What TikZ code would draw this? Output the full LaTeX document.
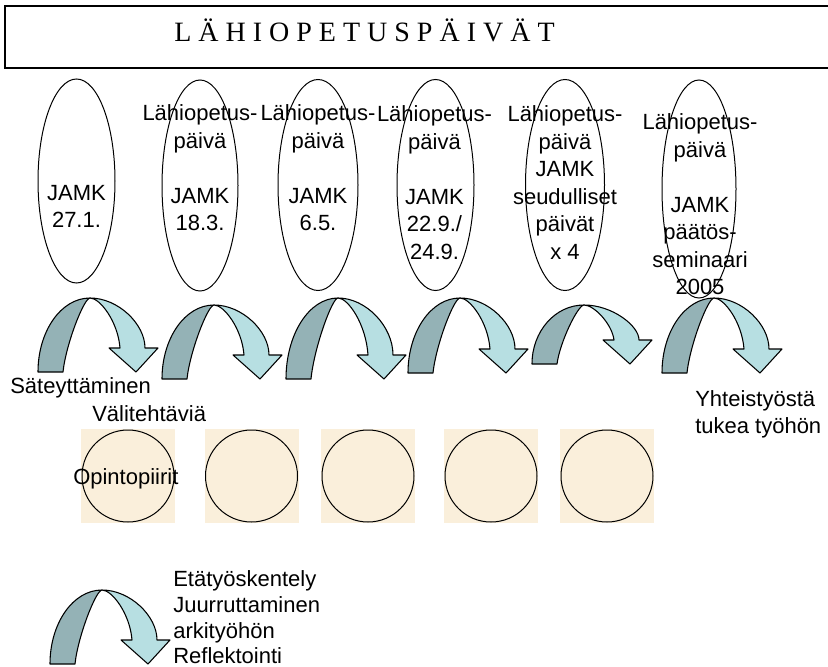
\documentclass[tikz,border=0pt]{standalone}
\usepackage{fontspec}
\setmainfont{Liberation Sans}
\newfontfamily\titlefont{Liberation Serif}
\usetikzlibrary{shapes.geometric}
\definecolor{backteal}{RGB}{148,178,182}
\definecolor{frontteal}{RGB}{183,223,226}
\definecolor{parchment}{RGB}{250,239,219}

\begin{document}
\begin{tikzpicture}[x=0.75pt, y=-0.75pt,
    lbl/.style={font=\fontsize{16.5}{20.6}\selectfont, inner sep=0pt, align=center},
    day/.style={draw, ellipse, inner sep=0pt, line width=0.75pt},
    ring/.style={draw, circle, inner sep=0pt, line width=0.75pt, minimum size=69pt},
    backband/.style={fill=backteal, draw=black, line width=0.8pt, line join=round},
    frontband/.style={fill=frontteal, draw=black, line width=0.8pt, line join=round}]
    \useasboundingbox (0,0) rectangle (828,667);

    % title box, open to the right
    \draw[line width=1.3pt] (828,6) -- (5,6) -- (5,68) -- (828,68);
    \node[anchor=base, inner sep=0pt, font=\titlefont\fontsize{21}{25}\selectfont] (title) at (364.5,42) {L Ä H I O P E T U S P Ä I V Ä T};

    % the contact days
    \foreach \n/\x/\y/\w/\h in {e1/76.5/181/77/204, e2/200/185.5/76/211, e3/318/185/80/211,
                                e4/435.5/185/77/211, e5/565/185/79/211, e6/699/189/74/218}
        \node[day, minimum width=\w*0.75pt, minimum height=\h*0.75pt] (\n) at (\x,\y) {};

    \node[lbl] (t1) at (76.5,206.5) {JAMK\\27.1.};
    \node[lbl] (t2) at (200,168) {Lähiopetus-\\päivä\\[20.6pt]JAMK\\18.3.};
    \node[lbl] (t3) at (318,168) {Lähiopetus-\\päivä\\[20.6pt]JAMK\\6.5.};
    \node[lbl] (t4) at (434.5,182.5) {Lähiopetus-\\päivä\\[20.6pt]JAMK\\22.9./\\24.9.};
    \node[lbl] (t5) at (565,182.5) {Lähiopetus-\\päivä\\JAMK\\seudulliset\\päivät\\x 4};
    \node[lbl] (t6) at (700,204.5) {Lähiopetus-\\päivä\\[20.6pt]JAMK\\päätös-\\seminaari\\2005};

    % curved arrows: left foot (x,y), height h
    \foreach \x/\y/\h in {38/372/74, 162/379/74, 286/379/81, 408/373/75, 532/364/59, 662/373/75, 50/664/74} {
        \begin{scope}[shift={(\x,\y)}]
            \filldraw[backband] (0,0) .. controls (0,{-0.55*\h}) and (23,-\h) .. (52,-\h)
                .. controls (46,-\h) and (28,{-0.38*\h}) .. (25,0) -- cycle;
            \filldraw[frontband] (52,-\h) .. controls (80,-\h) and (107,{-0.65*\h}) .. (107,-24)
                -- (120,-24) -- (98,0) -- (71,-24) -- (82,-24)
                .. controls (80,{-0.68*\h}) and (62,-\h) .. (52,-\h) -- cycle;
        \end{scope}
    }

    % study circles
    \foreach \n/\x in {c1/128, c2/251.5, c3/368, c4/491, c5/607} {
        \fill[parchment] (\x-47,429) rectangle (\x+47,523);
        \node[ring] (\n) at (\x,476) {};
    }

    \node[lbl, anchor=base west] (sat) at (10,393) {Säteyttäminen};
    \node[lbl, anchor=base west] (vali) at (92,421) {Välitehtäviä};
    \node[lbl, anchor=base west] (opi) at (73,484) {Opintopiirit};
    \node[lbl, align=left, anchor=west] (yht) at (695,414.5) {Yhteistyöstä\\tukea työhön};
    \node[lbl, align=left, anchor=west, font=\fontsize{16.5}{19.3}\selectfont] (eta) at (173,617.5)
        {Etätyöskentely\\Juurruttaminen\\arkityöhön\\Reflektointi};
\end{tikzpicture}
\end{document}
